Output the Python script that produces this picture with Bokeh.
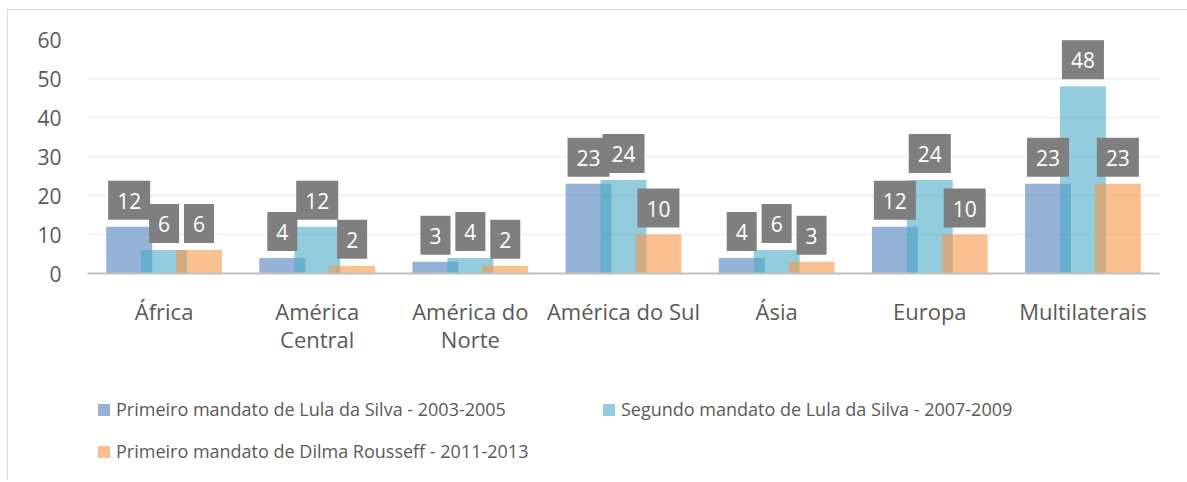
from bokeh.plotting import figure
from bokeh.layouts import column
from bokeh.models import ColumnDataSource, Label, Legend, LegendItem, Range1d, FixedTicker
from bokeh.embed import file_html
from bokeh.resources import INLINE

categories = ["África", "América Central", "América do Norte", "América do Sul", "Ásia", "Europa", "Multilaterais"]
category_labels = ["África", "América\nCentral", "América do\nNorte", "América do Sul", "Ásia", "Europa", "Multilaterais"]
series_names = [
    "Primeiro mandato de Lula da Silva - 2003-2005",
    "Segundo mandato de Lula da Silva - 2007-2009",
    "Primeiro mandato de Dilma Rousseff - 2011-2013",
]
lula_1 = [12, 4, 3, 23, 4, 12, 23]
lula_2 = [6, 12, 4, 24, 6, 24, 48]
dilma_1 = [6, 2, 2, 10, 3, 10, 23]
y_ticks = [0, 10, 20, 30, 40, 50, 60]

colors = ["#4F81BD", "#4BACC6", "#F79646"]
offsets = [-0.228, 0.0, 0.228]
FONT = "Open Sans"
TXT = "#595959"

p = figure(width=1179, height=370, x_range=Range1d(-0.5, 6.5), y_range=Range1d(0, 60),
           output_backend="svg", toolbar_location=None,
           min_border_left=79, min_border_right=28, min_border_top=29, min_border_bottom=107)
p.outline_line_color = None
p.background_fill_color = "white"
p.border_fill_color = "white"

series = [lula_1, lula_2, dilma_1]
for vals, col, off in zip(series, colors, offsets):
    xs = [i + off for i in range(len(categories))]
    src = ColumnDataSource(dict(x=xs, top=vals))
    p.vbar(x="x", top="top", width=0.30, source=src, fill_color=col, fill_alpha=0.6,
           line_color=None)

for vals, off in zip(series, offsets):
    for i, v in enumerate(vals):
        p.add_layout(Label(x=i + off, y=v, text=str(v), text_align="center",
                           text_baseline="bottom", y_offset=7, text_color="white",
                           text_font=FONT, text_font_size="21px",
                           background_fill_color="#7F7F7F",
                           padding=dict(left=9, right=9, top=12, bottom=11)))

# axes
p.xaxis.ticker = FixedTicker(ticks=list(range(len(categories))))
p.xaxis.major_label_overrides = {i: lab for i, lab in enumerate(category_labels)}
p.xaxis.major_tick_line_color = None
p.xaxis.minor_tick_line_color = None
p.xaxis.axis_line_color = "#BFBFBF"
p.xaxis.axis_line_width = 2
p.xaxis.major_label_text_font = FONT
p.xaxis.major_label_text_font_size = "22px"
p.xaxis.major_label_text_color = TXT
p.xaxis.major_label_text_line_height = 0.95
p.xaxis.major_label_standoff = 16

p.yaxis.ticker = FixedTicker(ticks=y_ticks)
p.yaxis.axis_line_color = None
p.yaxis.major_tick_line_color = None
p.yaxis.minor_tick_line_color = None
p.yaxis.major_label_text_font = FONT
p.yaxis.major_label_text_font_size = "21px"
p.yaxis.major_label_text_color = TXT
p.yaxis.major_label_standoff = 20

p.xgrid.visible = False
p.ygrid.ticker = FixedTicker(ticks=y_ticks[1:])
p.ygrid.grid_line_color = "#EEEEEE"
p.ygrid.grid_line_width = 1.5

# legend panel: zero-height swatch holders, only used for the legend keys
lg = figure(width=1179, height=100, x_range=Range1d(0, 1), y_range=Range1d(0, 1),
            output_backend="svg", toolbar_location=None, x_axis_type=None, y_axis_type=None,
            min_border_left=0, min_border_right=0, min_border_top=0, min_border_bottom=0)
lg.outline_line_color = None
lg.xgrid.visible = False
lg.ygrid.visible = False
swatches = [lg.vbar(x=[0.5], top=[0], bottom=[0], width=0.01, fill_color=c, fill_alpha=0.6,
                    line_color=None)
            for c in colors]

legend_common = dict(orientation="horizontal", padding=0, margin=0, border_line_color=None,
                     background_fill_alpha=0, label_text_font=FONT, label_text_font_size="18px",
                     label_text_color=TXT, glyph_width=15, glyph_height=15, label_standoff=5)
leg1 = Legend(items=[LegendItem(label=series_names[0], renderers=[swatches[0]]),
                     LegendItem(label=series_names[1], renderers=[swatches[1]])],
              location=(9, 59), spacing=95, **legend_common)
leg2 = Legend(items=[LegendItem(label=series_names[2], renderers=[swatches[2]])],
              location=(9, 17), **legend_common)
lg.add_layout(leg1)
lg.add_layout(leg2)

layout = column(p, lg, spacing=0,
                styles={"margin-left": "7px", "margin-top": "9px",
                        "border-left": "1px solid #D9D9D9", "border-top": "1px solid #D9D9D9"})

open("out.html", "w").write(file_html(layout, INLINE))
